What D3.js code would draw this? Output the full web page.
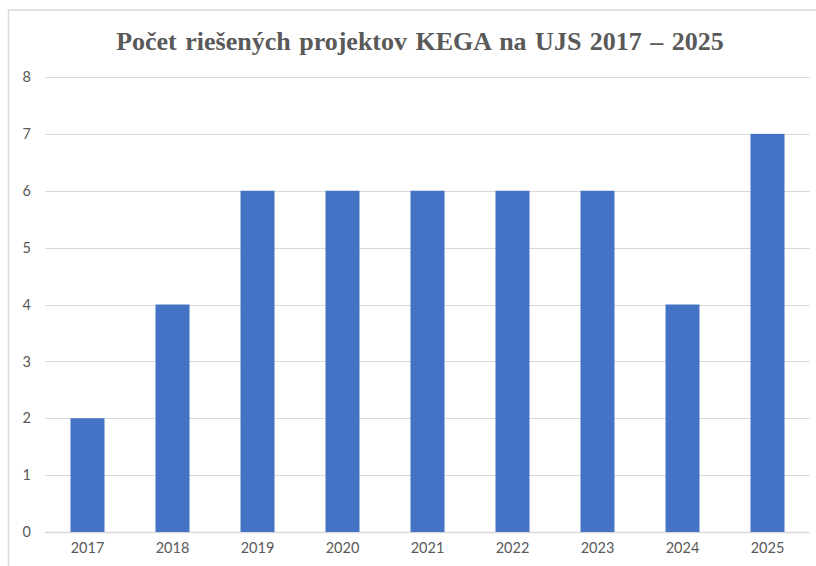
<!DOCTYPE html>
<html>
<head>
<meta charset="utf-8">
<script src="https://cdn.jsdelivr.net/npm/d3@7"></script>
<style>
  html, body { margin: 0; padding: 0; background: #fff; }
  svg { display: block; }
</style>
</head>
<body>
<svg id="chart" width="816" height="566"></svg>
<script>
const categories = ["2017", "2018", "2019", "2020", "2021", "2022", "2023", "2024", "2025"];
const values = [2, 4, 6, 6, 6, 6, 6, 4, 7];
const yTicks = [0, 1, 2, 3, 4, 5, 6, 7, 8];
const title = "Počet riešených projektov KEGA na UJS 2017 – 2025";

const svg = d3.select("#chart");
const W = 816, H = 566;
const plot = { left: 45, right: 810, top: 77, bottom: 532 };

// chart-area border (partially cropped)
svg.append("path")
  .attr("d", `M8.5,${H} L8.5,10 L${W},10`)
  .attr("fill", "none")
  .attr("stroke", "#d9d9d9")
  .attr("stroke-width", 1.5);

const x = d3.scaleBand()
  .domain(categories)
  .range([plot.left, plot.right])
  .paddingInner(0.6)
  .paddingOuter(0.3);

const y = d3.scaleLinear()
  .domain([0, 8])
  .range([plot.bottom, plot.top]);

// gridlines
svg.append("g")
  .selectAll("line")
  .data(yTicks)
  .join("line")
  .attr("x1", plot.left)
  .attr("x2", plot.right)
  .attr("y1", d => Math.round(y(d)) + 0.5)
  .attr("y2", d => Math.round(y(d)) + 0.5)
  .attr("stroke", "#d9d9d9")
  .attr("stroke-width", d => d === 0 ? 1.5 : 1);

// y axis labels
const yAxis = d3.axisLeft(y).tickValues(yTicks).tickSize(0).tickPadding(0);
const gy = svg.append("g").attr("transform", `translate(31,0)`).call(yAxis);
gy.select(".domain").remove();
gy.selectAll("text")
  .attr("fill", "#595959")
  .style("font-family", "Lato, 'Open Sans', sans-serif")
  .style("font-size", "14.5px");

// bars
svg.append("g")
  .selectAll("rect")
  .data(values)
  .join("rect")
  .attr("x", (d, i) => x(categories[i]))
  .attr("width", x.bandwidth())
  .attr("y", d => y(d))
  .attr("height", d => y(0) - y(d))
  .attr("fill", "#4472c4");

// x axis labels
const xAxis = d3.axisBottom(x).tickSize(0).tickPadding(0);
const gx = svg.append("g").attr("transform", `translate(0,${plot.bottom + 11})`).call(xAxis);
gx.select(".domain").remove();
gx.selectAll("text")
  .attr("fill", "#595959")
  .attr("dy", "0.71em")
  .style("font-family", "Lato, 'Open Sans', sans-serif")
  .style("font-size", "14.5px");

// title
svg.append("text")
  .attr("x", 420)
  .attr("y", 50)
  .attr("text-anchor", "middle")
  .attr("fill", "#595959")
  .style("font-family", "'Liberation Serif', 'Times New Roman', serif")
  .style("font-weight", "bold")
  .style("font-size", "26px")
  .style("word-spacing", "2px")
  .text(title);
</script>
</body>
</html>
